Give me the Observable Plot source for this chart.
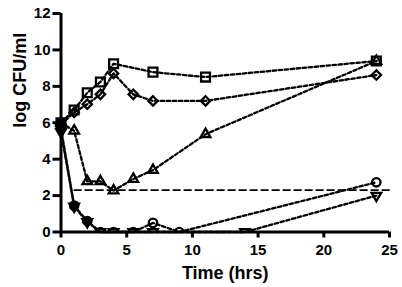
<!DOCTYPE html>
<html>
<head>
<meta charset="utf-8">
<script src="https://cdn.jsdelivr.net/npm/d3@7"></script>
<script src="https://cdn.jsdelivr.net/npm/@observablehq/plot@0.6"></script>
<style>
  html, body { margin: 0; padding: 0; background: #fff; }
  #chart svg { display: block; }
</style>
</head>
<body>
<div id="chart"></div>
<script>
// ---- data ----
const squareTime   = [0, 1, 2, 3, 4, 7, 11, 24];
const squareLog    = [6.0, 6.7, 7.65, 8.24, 9.24, 8.78, 8.51, 9.39];
const diamondTime  = [0, 1, 2, 3, 4, 5.5, 7, 11, 24];
const diamondLog   = [5.9, 6.56, 7.02, 7.56, 8.71, 7.56, 7.2, 7.2, 8.62];
const triangleTime = [0, 1, 2, 3, 4, 5.5, 7, 11, 24];
const triangleLog  = [6.0, 5.56, 2.78, 2.78, 2.27, 2.91, 3.4, 5.37, 9.39];
const circleTime   = [0, 1, 2, 3, 4, 5.5, 7, 9, 24];
const circleLog    = [5.7, 1.45, 0.6, 0, 0, 0, 0.5, 0, 2.73];
const invTriTime   = [0, 1, 2, 3, 4, 5.5, 7, 14, 24];
const invTriLog    = [5.5, 1.4, 0.55, 0, 0, 0, 0, 0, 2.0];
const limitTime    = [1, 25];
const limitLog     = [2.3, 2.3];
const xTicks = [0, 5, 10, 15, 20, 25];
const yTicks = [0, 2, 4, 6, 8, 10, 12];
const xTitle = "Time (hrs)";
const yTitle = "log CFU/ml";

// ---- build table ----
const seriesDefs = [
  {key: "square",   t: squareTime,   v: squareLog},
  {key: "diamond",  t: diamondTime,  v: diamondLog},
  {key: "triangle", t: triangleTime, v: triangleLog},
  {key: "circle",   t: circleTime,   v: circleLog},
  {key: "invtri",   t: invTriTime,   v: invTriLog}
];
const rows = seriesDefs.flatMap(s => s.t.map((t, i) => ({series: s.key, t, v: s.v[i]})));
const limitRows = limitTime.map((t, i) => ({t, v: limitLog[i]}));

const invTriangle = {
  draw(context, size) {
    const s = Math.sqrt(size) * 0.6824;
    const t = s / 2;
    const u = s * Math.sqrt(3) / 2;
    context.moveTo(0, s);
    context.lineTo(u, -t);
    context.lineTo(-u, -t);
    context.closePath();
  }
};
const symbolOf = {square: "square", diamond: "diamond2", triangle: "triangle2", circle: "circle", invtri: invTriangle};
const radiusOf = {square: 5, diamond: 4.2, triangle: 4.6, circle: 4.2, invtri: 4.6};
// overlapping markers (start point, and the coinciding early points of the two lower series) read as solid blobs
const solid = r => r.t === 0 || ((r.series === "circle" || r.series === "invtri") && r.t <= 2);

const font = "'Liberation Sans', Arial, Helvetica, sans-serif";

const dotMarks = seriesDefs.flatMap(s => {
  const d = rows.filter(r => r.series === s.key);
  const common = {x: "t", y: "v", symbol: symbolOf[s.key], r: radiusOf[s.key], stroke: "#000", strokeWidth: 2.3,
                  fill: r => solid(r) ? "#000" : "none"};
  return [
    Plot.dot(d.filter(r => r.v > 0), common),
    Plot.dot(d.filter(r => r.v === 0), {...common, clip: true})
  ];
});

const plot = Plot.plot({
  width: 402,
  height: 287,
  marginLeft: 60.5,
  marginRight: 13,
  marginTop: 13,
  marginBottom: 55.5,
  style: {fontFamily: font, background: "#fff", color: "#000"},
  x: {domain: [0, 25]},
  y: {domain: [0, 12]},
  marks: [
    Plot.line(rows, {x: "t", y: "v", z: "series", stroke: "#000", strokeWidth: 2.3, strokeDasharray: "3.5,2.5"}),
    Plot.line(limitRows, {x: "t", y: "v", stroke: "#000", strokeWidth: 1.6, strokeDasharray: "7,4"}),
    ...dotMarks,
    Plot.axisX({ticks: xTicks, tickSize: 6, tickPadding: 6, fontSize: 15, fontWeight: "bold", strokeWidth: 3, label: null}),
    Plot.axisY({ticks: yTicks, tickSize: 8, tickPadding: 2.5, fontSize: 15, fontWeight: "bold", strokeWidth: 3, label: null}),
    Plot.ruleX([0], {y1: 0, y2: 12, stroke: "#000", strokeWidth: 3}),
    Plot.ruleY([0], {x1: 0, x2: 25, stroke: "#000", strokeWidth: 3}),
    Plot.text([xTitle], {frameAnchor: "bottom", dy: 41, lineAnchor: "middle", fontSize: 18, fontWeight: "bold", fill: "#000"}),
    Plot.text([yTitle], {frameAnchor: "left", rotate: -90, dx: -40.5, dy: 5, lineAnchor: "middle", fontSize: 18, fontWeight: "bold", fill: "#000"})
  ]
});
document.getElementById("chart").appendChild(plot);
</script>
</body>
</html>
